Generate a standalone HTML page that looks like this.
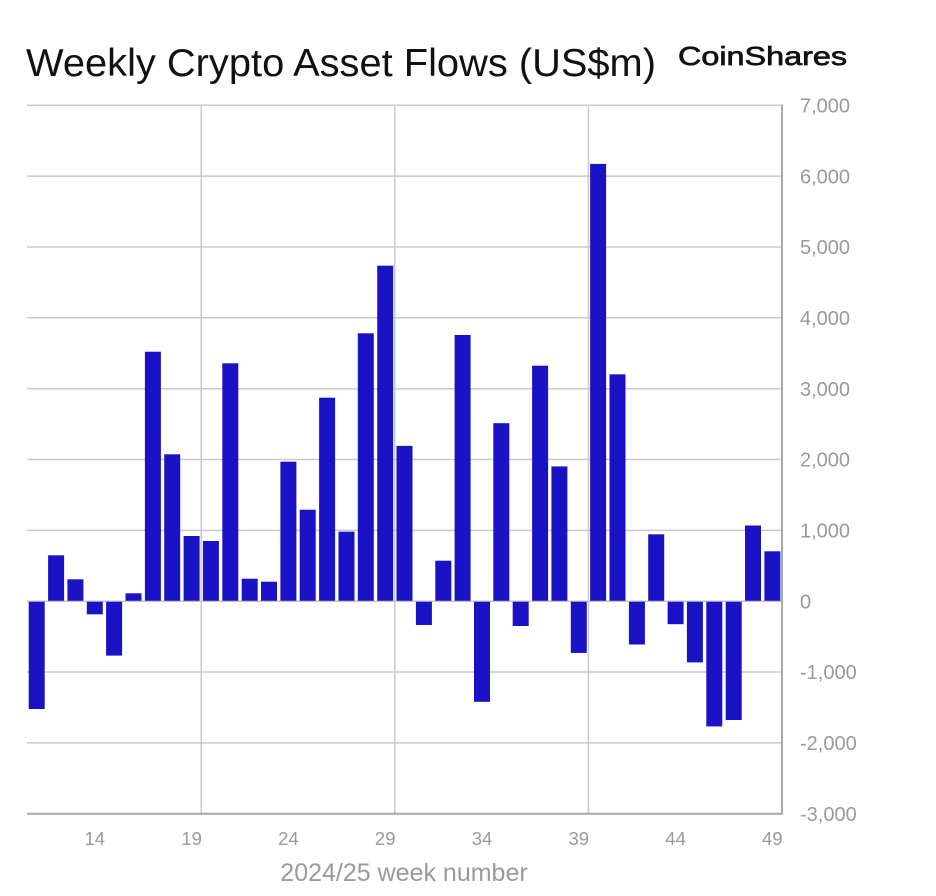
<!DOCTYPE html>
<html>
<head>
<meta charset="utf-8">
<style>
html,body{margin:0;padding:0;background:#fff;}
svg{display:block;}
text{font-family:"Liberation Sans",Arial,sans-serif;}
</style>
</head>
<body>
<svg width="936" height="896" viewBox="0 0 936 896" xmlns="http://www.w3.org/2000/svg">
<rect width="936" height="896" fill="#fff"/>
<text x="26" y="76" font-size="39" fill="#111" textLength="630" lengthAdjust="spacingAndGlyphs">Weekly Crypto Asset Flows (US$m)</text>
<text x="678" y="65" font-size="26" fill="#111" stroke="#111" stroke-width="0.7" textLength="169" lengthAdjust="spacingAndGlyphs">CoinShares</text>

<g stroke="#cacaca" stroke-width="1.5">
<line x1="27" y1="105.3" x2="782" y2="105.3"/>
<line x1="27" y1="176.1" x2="782" y2="176.1"/>
<line x1="27" y1="247.0" x2="782" y2="247.0"/>
<line x1="27" y1="317.8" x2="782" y2="317.8"/>
<line x1="27" y1="388.7" x2="782" y2="388.7"/>
<line x1="27" y1="459.5" x2="782" y2="459.5"/>
<line x1="27" y1="530.4" x2="782" y2="530.4"/>
<line x1="27" y1="672.0" x2="782" y2="672.0"/>
<line x1="27" y1="742.9" x2="782" y2="742.9"/>
<line x1="201.2" y1="105.3" x2="201.2" y2="814"/>
<line x1="394.8" y1="105.3" x2="394.8" y2="814"/>
<line x1="588.4" y1="105.3" x2="588.4" y2="814"/>
</g>

<line x1="27" y1="601.2" x2="782" y2="601.2" stroke="#c4c4c4" stroke-width="1.5"/>
<g stroke="#a9a9a9" stroke-width="2" fill="none">
<line x1="27" y1="813.8" x2="782" y2="813.8"/>
<line x1="782" y1="104.5" x2="782" y2="814.8"/>
</g>

<g font-size="20" fill="#9a9a9a">
<text x="800" y="112.5">7,000</text>
<text x="800" y="183.3">6,000</text>
<text x="800" y="254.2">5,000</text>
<text x="800" y="325">4,000</text>
<text x="800" y="395.9">3,000</text>
<text x="800" y="466.7">2,000</text>
<text x="800" y="537.6">1,000</text>
<text x="800" y="608.4">0</text>
<text x="800" y="679.2">-1,000</text>
<text x="800" y="750.1">-2,000</text>
<text x="800" y="821">-3,000</text>
</g>

<g font-size="18.5" fill="#9a9a9a" text-anchor="middle">
<text x="94.8" y="845">14</text>
<text x="191.6" y="845">19</text>
<text x="288.4" y="845">24</text>
<text x="385.2" y="845">29</text>
<text x="482" y="845">34</text>
<text x="578.8" y="845">39</text>
<text x="675.6" y="845">44</text>
<text x="772.3" y="845">49</text>
</g>
<text x="404" y="881" font-size="25" fill="#9a9a9a" text-anchor="middle">2024/25 week number</text>

<g fill="#1a13c6">
<rect x="28.7" y="601.2" width="16" height="107.8"/>
<rect x="48.1" y="555.3" width="16" height="45.9"/>
<rect x="67.4" y="579.3" width="16" height="21.9"/>
<rect x="86.8" y="601.2" width="16" height="13.1"/>
<rect x="106.1" y="601.2" width="16" height="54.4"/>
<rect x="125.5" y="593.3" width="16" height="7.9"/>
<rect x="144.9" y="351.7" width="16" height="249.5"/>
<rect x="164.2" y="454.3" width="16" height="146.9"/>
<rect x="183.6" y="536.0" width="16" height="65.2"/>
<rect x="202.9" y="541.0" width="16" height="60.2"/>
<rect x="222.3" y="363.3" width="16" height="237.9"/>
<rect x="241.7" y="578.7" width="16" height="22.5"/>
<rect x="261.0" y="581.7" width="16" height="19.5"/>
<rect x="280.4" y="461.7" width="16" height="139.5"/>
<rect x="299.7" y="509.7" width="16" height="91.5"/>
<rect x="319.1" y="397.7" width="16" height="203.5"/>
<rect x="338.5" y="531.7" width="16" height="69.5"/>
<rect x="357.8" y="333.3" width="16" height="267.9"/>
<rect x="377.2" y="265.7" width="16" height="335.5"/>
<rect x="396.5" y="445.9" width="16" height="155.3"/>
<rect x="415.9" y="601.2" width="16" height="23.8"/>
<rect x="435.3" y="560.7" width="16" height="40.5"/>
<rect x="454.6" y="335.0" width="16" height="266.2"/>
<rect x="474.0" y="601.2" width="16" height="100.6"/>
<rect x="493.3" y="423.2" width="16" height="178.0"/>
<rect x="512.7" y="601.2" width="16" height="24.8"/>
<rect x="532.1" y="365.7" width="16" height="235.5"/>
<rect x="551.4" y="466.4" width="16" height="134.8"/>
<rect x="570.8" y="601.2" width="16" height="51.7"/>
<rect x="590.1" y="163.9" width="16" height="437.3"/>
<rect x="609.5" y="374.3" width="16" height="226.9"/>
<rect x="628.9" y="601.2" width="16" height="43.3"/>
<rect x="648.2" y="534.3" width="16" height="66.9"/>
<rect x="667.6" y="601.2" width="16" height="23.0"/>
<rect x="686.9" y="601.2" width="16" height="61.2"/>
<rect x="706.3" y="601.2" width="16" height="125.2"/>
<rect x="725.7" y="601.2" width="16" height="118.8"/>
<rect x="745.0" y="525.5" width="16" height="75.7"/>
<rect x="764.4" y="551.3" width="16" height="49.9"/>
</g>
<line x1="27" y1="601.2" x2="782" y2="601.2" stroke="#c4c4c4" stroke-width="1"/>
</svg>
</body>
</html>
